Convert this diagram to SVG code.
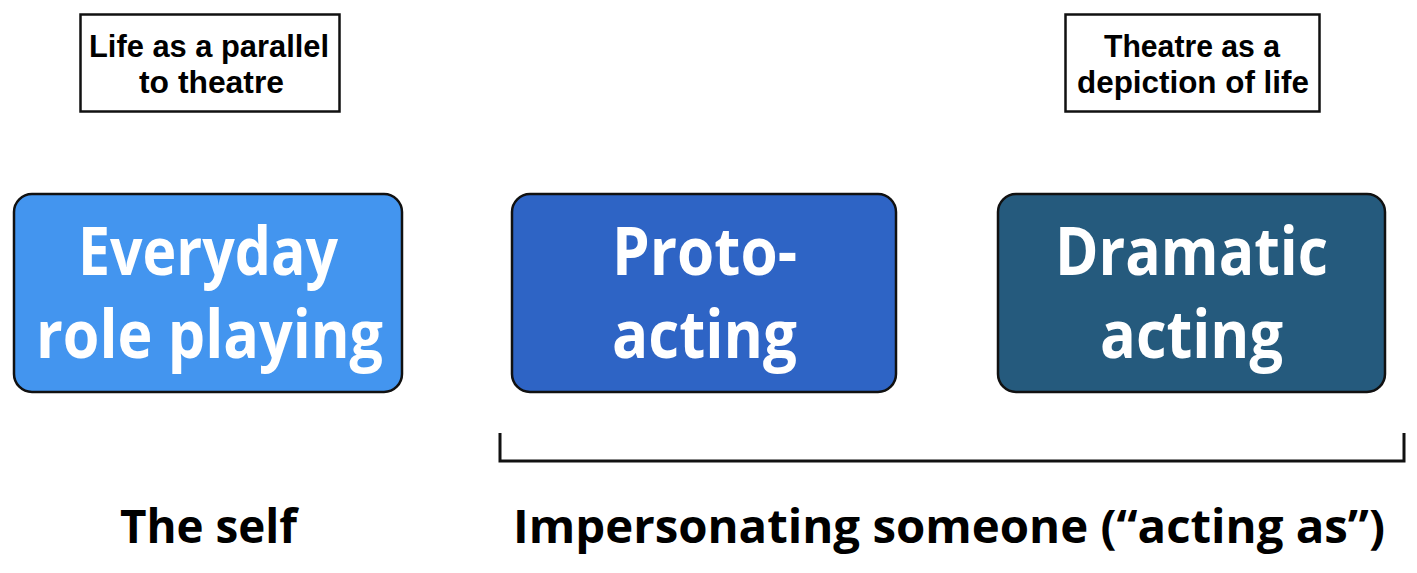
<svg xmlns="http://www.w3.org/2000/svg" width="1417" height="573" viewBox="0 0 1417 573">
<style>
.note{fill:#fff;stroke:#111;stroke-width:2.5}
.node{stroke:#111;stroke-width:2.5}
.t{font-family:"Open Sans","Liberation Sans",sans-serif;font-weight:bold}
.s{font-family:"Liberation Sans",Arial,sans-serif;font-weight:bold}
.small{font-size:31px;fill:#000}
.big{font-size:66px;fill:#fff}
.lab{font-size:46px;fill:#000}
.conn{fill:none;stroke:#111;stroke-width:3}
</style>
<rect width="1417" height="573" fill="#fff"/>
<g id="note-left">
<rect class="note" x="80.5" y="14.5" width="259" height="97"/>
<text class="s small" x="89" y="57" textLength="240" lengthAdjust="spacingAndGlyphs">Life as a parallel</text>
<text class="s small" x="139" y="93" textLength="145" lengthAdjust="spacingAndGlyphs">to theatre</text>
</g>
<g id="note-right">
<rect class="note" x="1065.5" y="14.5" width="254" height="97"/>
<text class="s small" x="1104" y="57" textLength="176" lengthAdjust="spacingAndGlyphs">Theatre as a</text>
<text class="s small" x="1077" y="93" textLength="232" lengthAdjust="spacingAndGlyphs">depiction of life</text>
</g>
<g id="node-everyday">
<rect class="node" x="14" y="194" width="388" height="198" rx="18" fill="#4395EF"/>
<text class="t big" x="78" y="275" textLength="260" lengthAdjust="spacingAndGlyphs">Everyday</text>
<text class="t big" x="36" y="358" textLength="347" lengthAdjust="spacingAndGlyphs">role playing</text>
</g>
<g id="node-proto">
<rect class="node" x="512" y="194" width="384" height="198" rx="18" fill="#2E64C5"/>
<text class="t big" x="612" y="275" textLength="185" lengthAdjust="spacingAndGlyphs">Proto-</text>
<text class="t big" x="612" y="358" textLength="185" lengthAdjust="spacingAndGlyphs">acting</text>
</g>
<g id="node-dramatic">
<rect class="node" x="998" y="194" width="387" height="198" rx="18" fill="#255A7D"/>
<text class="t big" x="1055" y="275" textLength="273" lengthAdjust="spacingAndGlyphs">Dramatic</text>
<text class="t big" x="1100" y="358" textLength="183" lengthAdjust="spacingAndGlyphs">acting</text>
</g>
<g id="connectors">
<path class="conn" d="M500,433 V461 H1404 V433"/>
</g>
<g id="label-self">
<text class="t lab" x="120" y="543" textLength="177" lengthAdjust="spacingAndGlyphs">The self</text>
</g>
<g id="label-impersonating">
<text class="t lab" x="513" y="543" textLength="872" lengthAdjust="spacingAndGlyphs">Impersonating someone (“acting as”)</text>
</g>
</svg>
